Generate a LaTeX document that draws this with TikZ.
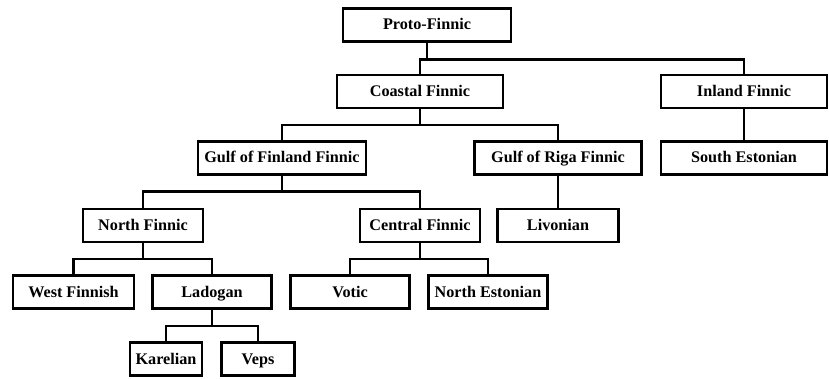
\documentclass[tikz,border=0pt]{standalone}
\usepackage{fontspec}
\setmainfont{Liberation Serif}
\begin{document}
\begin{tikzpicture}[x=1pt,y=-1pt,
  lang/.style={draw,line width=2.2pt,minimum height=33pt,inner sep=0pt,
    text height=12pt,text depth=2pt,
    font=\fontsize{16.2}{18}\selectfont\bfseries},
  link/.style={line width=2.2pt}]
\useasboundingbox (0,0) rectangle (829,379);
% top levels
\node[lang,minimum width=168pt] (proto) at (427,25) {Proto-Finnic};
\node[lang,minimum width=166pt] (coastal) at (420,91.5) {Coastal Finnic};
\node[lang,minimum width=166pt] (inland) at (744,91.5) {Inland Finnic};
\node[lang,minimum width=168pt] (gulffin) at (282,158) {Gulf of Finland Finnic};
\node[lang,minimum width=167pt] (gulfriga) at (558,158) {Gulf of Riga Finnic};
\node[lang,minimum width=166pt] (southest) at (744,158) {South Estonian};
\node[lang,minimum width=120pt] (northfin) at (143,225.5) {North Finnic};
\node[lang,minimum width=120pt] (central) at (420,225.5) {Central Finnic};
\node[lang,minimum width=121pt] (livonian) at (558,225.5) {Livonian};
% lower levels
\node[lang,minimum width=121pt] (westfin) at (73.5,292) {West Finnish};
\node[lang,minimum width=119pt] (ladogan) at (212,292) {Ladogan};
\node[lang,minimum width=119pt] (votic) at (350,292) {Votic};
\node[lang,minimum width=119pt] (northest) at (488,292) {North Estonian};
\node[lang,minimum width=72pt] (karelian) at (166,359) {Karelian};
\node[lang,minimum width=73pt] (veps) at (258,359) {Veps};
% branches
\draw[link] (proto.south) -- ++(0,17) -| (coastal.north);
\draw[link] (proto.south) -- ++(0,17) -| (inland.north);
\draw[link] (coastal.south) -- ++(0,16) -| (gulffin.north);
\draw[link] (coastal.south) -- ++(0,16) -| (gulfriga.north);
\draw[link] (inland.south) -- (southest.north);
\draw[link] (gulffin.south) -- ++(0,16) -| (northfin.north);
\draw[link] (gulffin.south) -- ++(0,16) -| (central.north);
\draw[link] (gulfriga.south) -- (livonian.north);
\draw[link] (northfin.south) -- ++(0,16) -| (westfin.north);
\draw[link] (northfin.south) -- ++(0,16) -| (ladogan.north);
\draw[link] (central.south) -- ++(0,16) -| (votic.north);
\draw[link] (central.south) -- ++(0,16) -| (northest.north);
\draw[link] (ladogan.south) -- ++(0,16) -| (karelian.north);
\draw[link] (ladogan.south) -- ++(0,16) -| (veps.north);
\end{tikzpicture}
\end{document}
